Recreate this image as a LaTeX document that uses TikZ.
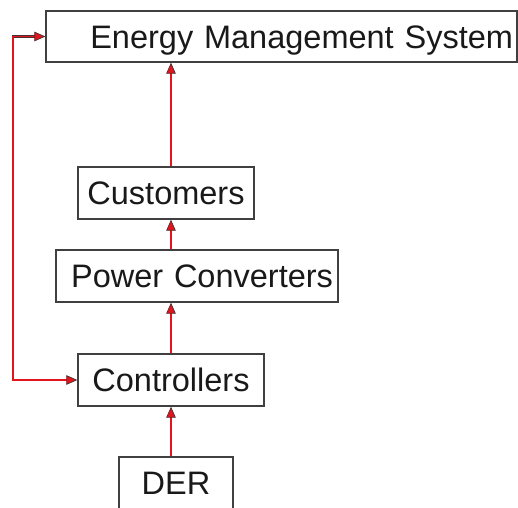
\documentclass[tikz,border=0pt]{standalone}
\usepackage{fontspec}
\setmainfont{Liberation Sans}
\usetikzlibrary{arrows.meta}
\definecolor{boxline}{HTML}{404040}
\definecolor{linered}{HTML}{E3141C}
\definecolor{lineedge}{HTML}{4A3030}
\begin{document}
\begin{tikzpicture}[x=1pt,y=1pt,
  box/.style={draw=boxline, line width=1.3pt, rectangle, inner sep=0pt,
    minimum height=51pt, text height=23.3pt, text depth=0pt,
    font=\fontsize{32.5}{39}\selectfont, text=black!90},
  conn/.style={draw=linered, line width=1.7pt,
    preaction={draw=lineedge, line width=2.8pt, arrows=-, shorten >=7pt},
    -{Triangle[length=11pt,width=9.5pt,fill=linered,color=lineedge,line width=0.7pt]}},
  bconn/.style={draw=linered, line width=1.7pt,
    preaction={draw=lineedge, line width=2.8pt, arrows=-, shorten >=7pt, shorten <=7pt},
    {Triangle[length=11pt,width=9.5pt,fill=linered,color=lineedge,line width=0.7pt]}-{Triangle[length=11pt,width=9.5pt,fill=linered,color=lineedge,line width=0.7pt]}}
]
\useasboundingbox (0,0) rectangle (518,-507);
\node[box, minimum width=471pt, inner xsep=4pt, text width=463pt, align=right] (ems) at (281.5,-36.5) {Energy Management System};
\node[box, minimum width=176pt, minimum height=52pt] (cust) at (166,-193) {Customers};
\node[box, minimum height=52pt, inner xsep=5pt, text width=272pt, align=right] (pc) at (197,-276) {Power Converters};
\node[box, minimum width=186pt, minimum height=52pt] (ctrl) at (171,-380) {Controllers};
\node[box, minimum width=114pt, minimum height=52pt] (der) at (176,-483) {DER};
\coordinate (lp) at (13,-380);
\draw[conn] (ctrl.south |- der.north) -- (ctrl.south);
\draw[conn] (ctrl.north) -- (ctrl.north |- pc.south);
\draw[conn] (ctrl.north |- pc.north) -- (ctrl.north |- cust.south);
\draw[conn] (ctrl.north |- cust.north) -- (ctrl.north |- ems.south);
\draw[bconn] (ctrl.west) -- (lp) |- (ems.west);
\end{tikzpicture}
\end{document}
